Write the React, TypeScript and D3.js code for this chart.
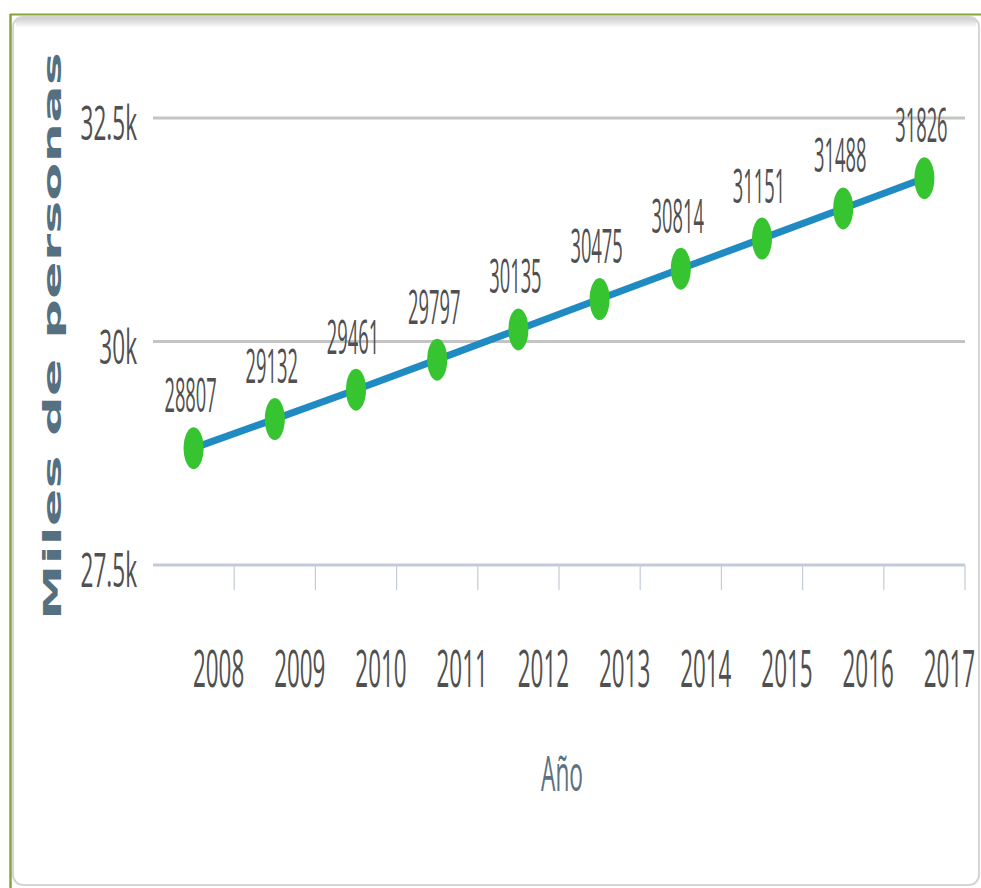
import React from "react";
import * as d3 from "d3";

const years = ["2008", "2009", "2010", "2011", "2012", "2013", "2014", "2015", "2016", "2017"];
const values = [28807, 29132, 29461, 29797, 30135, 30475, 30814, 31151, 31488, 31826];
const yTicks = [27500, 30000, 32500];
const yTickLabels = ["27.5k", "30k", "32.5k"];
const yTitle = "Miles de personas";
const xTitle = "Año";

const W = 981;
const H = 888;
const FONT = "'Open Sans', 'Liberation Sans', sans-serif";

export default function App() {
  const x = d3.scaleBand<string>().domain(years).range([153, 965]).padding(0);
  const y = d3.scaleLinear().domain([27500, 32500]).range([565, 118]);
  const cx = (yr: string) => (x(yr) as number) + x.bandwidth() / 2;

  const line = d3
    .line<number>()
    .x((_, i) => cx(years[i]))
    .y((v) => y(v));

  return (
    <div style={{ position: "absolute", left: 0, top: 0 }}>
      <svg width={W} height={H} style={{ display: "block" }}>
        <defs>
          <linearGradient id="topShade" x1="0" y1="0" x2="0" y2="1">
            <stop offset="0" stopColor="#cfcfcf" />
            <stop offset="1" stopColor="#ffffff" />
          </linearGradient>
        </defs>
        <rect x={0} y={0} width={W} height={H} fill="#ffffff" />
        {/* card */}
        <rect x={13} y={17} width={966} height={868} rx={10} fill="#ffffff" stroke="#d4d4d4" strokeWidth={2} />
        <rect x={16} y={18} width={960} height={10} fill="url(#topShade)" />
        {/* olive frame */}
        <line x1={10} y1={14.5} x2={W} y2={14.5} stroke="#86a437" strokeWidth={2} />
        <line x1={10.5} y1={14} x2={10.5} y2={H} stroke="#86a437" strokeWidth={2.5} />

        {/* grid lines */}
        {yTicks.map((t, i) => (
          <line
            key={"g" + t}
            x1={153}
            x2={965}
            y1={y(t)}
            y2={y(t)}
            stroke={i === 0 ? "#c3ccd6" : "#c4c4c4"}
            strokeWidth={3}
          />
        ))}
        {/* x ticks */}
        {years.map((yr) => {
          const tx = (x(yr) as number) + x.bandwidth();
          return <line key={"t" + yr} x1={tx} x2={tx} y1={565} y2={590} stroke="#c3ccd8" strokeWidth={1.2} />;
        })}
        {/* y labels */}
        {yTicks.map((t, i) => (
          <text
            key={"yl" + t}
            transform={`translate(137,${y(t) + 22}) scale(0.47,1)`}
            textAnchor="end"
            fontFamily={FONT}
            fontSize={48}
            fill="#505050"
          >
            {yTickLabels[i]}
          </text>
        ))}
        {/* x labels */}
        {years.map((yr) => (
          <text
            key={"xl" + yr}
            transform={`translate(${cx(yr) + 25},687) scale(0.44,1)`}
            textAnchor="middle"
            fontFamily={FONT}
            fontSize={51}
            fill="#505050"
          >
            {yr}
          </text>
        ))}
        {/* line */}
        <path d={line(values) || ""} fill="none" stroke="#1f8bc2" strokeWidth={7} strokeLinejoin="round" />
        {/* markers */}
        {values.map((v, i) => (
          <ellipse key={"m" + i} cx={cx(years[i])} cy={y(v)} rx={10} ry={21} fill="#36c430" />
        ))}
        {/* data labels */}
        {values.map((v, i) => (
          <text
            key={"dl" + i}
            transform={`translate(${cx(years[i]) - 3},${y(v) - 36}) scale(0.39,1)`}
            textAnchor="middle"
            fontFamily={FONT}
            fontSize={47}
            fill="#505050"
          >
            {v}
          </text>
        ))}
        {/* y title */}
        <text
          transform="translate(61,620) rotate(-90)"
          textAnchor="start"
          fontFamily="'DejaVu Sans', sans-serif"
          fontWeight="bold"
          fontSize={24}
          fill="#557080"
          textLength={568}
          lengthAdjust="spacingAndGlyphs"
        >
          {yTitle}
        </text>
        {/* x title */}
        <text
          x={541}
          y={791}
          fontFamily={FONT}
          fontSize={50}
          fill="#5b7282"
          textLength={42}
          lengthAdjust="spacingAndGlyphs"
        >
          {xTitle}
        </text>
      </svg>
    </div>
  );
}
